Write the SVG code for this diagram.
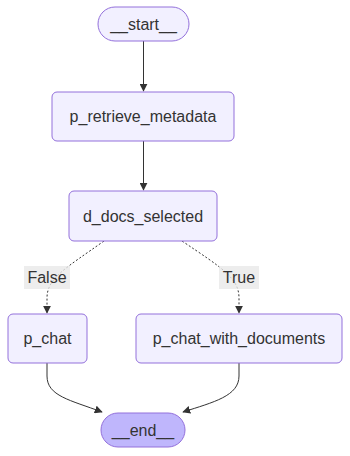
<svg xmlns="http://www.w3.org/2000/svg" width="350" height="456" viewBox="0 0 350 456">
  <style>
    .node rect { fill: #f2f0ff; stroke: #9370db; stroke-width: 1; }
    .node.end rect { fill: #bfb6fc; }
    .label { font-family: "Liberation Sans", Arial, sans-serif; font-size: 16px; fill: #333333; text-anchor: middle; dominant-baseline: central; }
    .edge { fill: none; stroke: #333333; stroke-width: 1; }
    .edge.dotted { stroke-dasharray: 2 2; }
    .edge-label rect { fill: #e8e8e8; opacity: 0.8; }
  </style>
  <defs>
    <marker id="arrow" viewBox="0 0 10 10" refX="9" refY="5" markerWidth="8" markerHeight="8" markerUnits="userSpaceOnUse" orient="auto">
      <path d="M0,0 L10,5 L0,10 z" fill="#333333"/>
    </marker>
  </defs>

  <g id="edges">
    <path class="edge" d="M143.5,41 L143.5,91" marker-end="url(#arrow)"/>
    <path class="edge" d="M143.5,141 L143.5,190" marker-end="url(#arrow)"/>
    <path class="edge dotted" d="M104,241 C66,268 47,278 47,298 L47,313" marker-end="url(#arrow)"/>
    <path class="edge dotted" d="M182,241 C222,268 239,278 239,298 L239,313" marker-end="url(#arrow)"/>
    <path class="edge" d="M47,363 L47,376 C47,396 70,400 102,412" marker-end="url(#arrow)"/>
    <path class="edge" d="M239,363 L239,376 C239,396 214,402 183,412" marker-end="url(#arrow)"/>
  </g>

  <g id="edge-labels">
    <g class="edge-label">
      <rect x="24" y="266" width="46" height="23"/>
      <text class="label" x="47" y="277.5">False</text>
    </g>
    <g class="edge-label">
      <rect x="219" y="266" width="40" height="23"/>
      <text class="label" x="239" y="277.5">True</text>
    </g>
  </g>

  <g id="start" class="node">
    <rect x="98" y="7" width="91" height="34" rx="17" ry="17"/>
    <text class="label" x="143.5" y="24">__start__</text>
  </g>

  <g id="p_retrieve_metadata" class="node">
    <rect x="52" y="92" width="182" height="49" rx="5" ry="5"/>
    <text class="label" x="143" y="116.5">p_retrieve_metadata</text>
  </g>

  <g id="d_docs_selected" class="node">
    <rect x="69" y="191" width="148" height="50" rx="5" ry="5"/>
    <text class="label" x="143" y="216">d_docs_selected</text>
  </g>

  <g id="p_chat" class="node">
    <rect x="8" y="314" width="79" height="49" rx="5" ry="5"/>
    <text class="label" x="47.5" y="338.5">p_chat</text>
  </g>

  <g id="p_chat_with_documents" class="node">
    <rect x="136" y="314" width="206" height="49" rx="5" ry="5"/>
    <text class="label" x="239" y="338.5">p_chat_with_documents</text>
  </g>

  <g id="end" class="node end">
    <rect x="101" y="413" width="84" height="34" rx="17" ry="17"/>
    <text class="label" x="143" y="430">__end__</text>
  </g>
</svg>
